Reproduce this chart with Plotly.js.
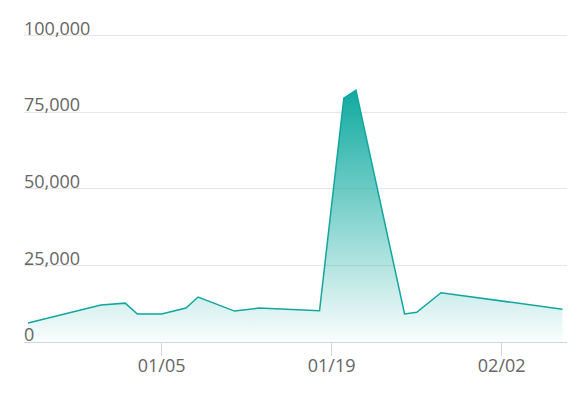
<!DOCTYPE html>
<html>
<head>
<meta charset="utf-8">
<script src="https://cdn.plot.ly/plotly-3.0.1.min.js"></script>
<style>html,body{margin:0;padding:0;background:#fff;}#chart{width:588px;height:394px;}</style>
</head>
<body>
<div id="chart"></div>
<script>
const dates = ['2019-12-25','2019-12-31','2020-01-02','2020-01-03','2020-01-05','2020-01-07','2020-01-08','2020-01-11','2020-01-13','2020-01-18','2020-01-20','2020-01-21','2020-01-25','2020-01-26','2020-01-28','2020-02-07'];
const values = [6200,12100,12700,9150,9150,11100,14700,10100,11100,10200,79700,82300,9150,9700,16100,10700];
const yTicks = [0,25000,50000,75000,100000];
const xTicks = ['2020-01-05','2020-01-19','2020-02-02'];
const xTickLabels = ['01/05','01/19','02/02'];

const trace = {
  x: dates, y: values, type: 'scatter', mode: 'lines',
  line: {color: 'rgb(18,166,158)', width: 1.5},
  fill: 'tozeroy',
  fillgradient: {type: 'vertical', start: 0, stop: 82300,
    colorscale: [[0,'rgba(16,170,160,0.02)'],[1,'rgba(16,170,160,1)']]},
  hoverinfo: 'skip'
};
const yLabels = yTicks.map(v => ({
  text: v.toLocaleString('en-US'), x: 0, xref: 'paper', y: v, yref: 'y',
  xanchor: 'left', yanchor: 'bottom', showarrow: false,
  xshift: -2, yshift: -6,
  font: {family: '"Open Sans", sans-serif', size: 18, color: '#666'}
}));
const layout = {
  width: 588, height: 394,
  margin: {l: 24, r: 21, t: 0, b: 52},
  paper_bgcolor: '#fff', plot_bgcolor: '#fff',
  showlegend: false,
  font: {family: '"Open Sans", sans-serif', color: '#666'},
  annotations: yLabels,
  xaxis: {
    type: 'date', range: ['2019-12-24 16:00','2020-02-07 09:00'],
    tickvals: xTicks, ticktext: xTickLabels,
    showgrid: false, zeroline: false,
    showline: true, linecolor: '#ccd6eb', linewidth: 1,
    ticks: 'outside', ticklen: 13, tickcolor: '#ccd6eb', tickwidth: 1,
    ticklabelstandoff: -6,
    tickfont: {size: 18, color: '#666'}
  },
  yaxis: {
    range: [0, 111760], tickvals: yTicks, showticklabels: false,
    showgrid: true, gridcolor: '#e6e6e6', gridwidth: 1,
    zeroline: false, showline: false
  }
};
Plotly.newPlot('chart', [trace], layout, {displayModeBar: false, staticPlot: true});
</script>
</body>
</html>
